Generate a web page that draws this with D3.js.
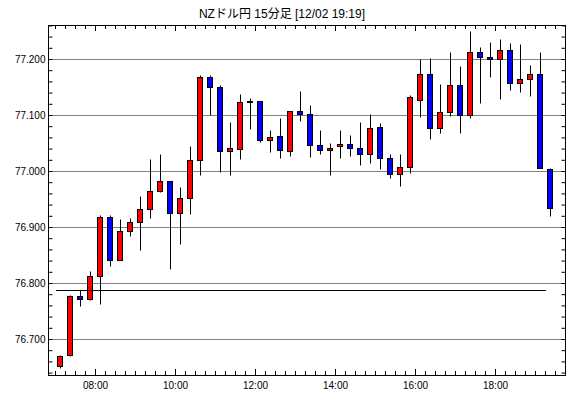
<!DOCTYPE html>
<html><head><meta charset="utf-8">
<script src="https://cdn.jsdelivr.net/npm/d3@7"></script>
<style>
html,body{margin:0;padding:0;background:#fff;}
svg{display:block;}
text{font-family:"Liberation Sans",Arial,"Noto Sans CJK JP",sans-serif;}
</style></head>
<body>
<script>
const title = "NZドル円 15分足 [12/02 19:19]";
const startTime = "07:00";      // first candle
const intervalMin = 15;
const openV  = [76.652,76.672,76.777,76.772,76.813,76.918,76.841,76.893,76.909,76.932,
                76.965,76.983,76.925,76.952,77.020,77.168,77.150,77.036,77.040,77.125,
                77.125,77.056,77.063,77.036,77.107,77.102,77.047,77.038,77.045,77.049,
                77.041,77.031,77.079,77.024,76.995,77.007,77.127,77.174,77.077,77.106,
                77.154,77.100,77.213,77.204,77.200,77.216,77.158,77.165,77.174,77.004];
const highV  = [76.672,76.779,76.787,76.822,76.922,76.922,76.915,76.916,76.956,77.022,
                77.031,76.983,76.972,77.045,77.172,77.172,77.154,77.087,77.137,77.131,
                77.125,77.074,77.094,77.107,77.142,77.117,77.074,77.050,77.074,77.065,
                77.087,77.101,77.085,77.031,77.031,77.135,77.200,77.202,77.156,77.212,
                77.188,77.250,77.222,77.231,77.236,77.229,77.226,77.190,77.213,77.006];
const lowV   = [76.649,76.670,76.759,76.770,76.762,76.830,76.841,76.884,76.859,76.916,
                76.963,76.825,76.869,76.923,76.992,77.100,76.998,76.992,77.021,77.075,
                77.051,77.034,77.023,77.026,77.090,77.025,77.030,76.993,77.023,77.026,
                77.010,77.015,77.003,76.987,76.973,76.996,77.096,77.057,77.067,77.098,
                77.067,77.094,77.122,77.168,77.128,77.144,77.141,77.134,77.006,76.919];
const closeV = [76.670,76.777,76.772,76.813,76.918,76.841,76.893,76.909,76.932,76.965,
                76.983,76.925,76.952,77.020,77.168,77.150,77.036,77.041,77.124,77.125,
                77.056,77.061,77.038,77.107,77.102,77.046,77.038,77.041,77.049,77.041,
                77.031,77.077,77.024,76.995,77.008,77.133,77.174,77.077,77.106,77.154,
                77.100,77.213,77.204,77.200,77.216,77.158,77.165,77.174,77.006,76.934];
const refLevel = 76.788;
const refStart = "07:00", refEnd = "19:15";
const yLabels = [76.7, 76.8, 76.9, 77.0, 77.1, 77.2];
const xLabels = ["08:00","10:00","12:00","14:00","16:00","18:00"];

const W = 570, H = 398;
const L = 48.5, R = 565.5, T = 25, B = 375;
const parse = d3.timeParse("%H:%M");
const t0 = parse(startTime);
const candles = openV.map((o,i)=>({t:new Date(t0.getTime()+i*intervalMin*60000),o,h:highV[i],l:lowV[i],c:closeV[i]}));

const svg = d3.select("body").append("svg").attr("width",W).attr("height",H);

const x = d3.scaleTime()
  .domain([new Date(parse("06:49").getTime()+30000), parse("19:45")])
  .range([L, R]);
const y = d3.scaleLinear().domain([76.63661, 77.26161]).range([B, T]);
const cx = d => Math.round(x(new Date(d.t.getTime()+intervalMin*30000))-0.5)+0.5;
const py = v => Math.round(y(v)-0.5)+0.5;

// title
svg.append("text").attr("x",282).attr("y",18).attr("text-anchor","middle")
  .attr("font-size",12).attr("fill","#000").text(title);

// gridlines
svg.append("g").selectAll("line").data(yLabels).join("line")
  .attr("x1",L).attr("x2",R).attr("y1",d=>py(d)).attr("y2",d=>py(d))
  .attr("stroke","#000").attr("stroke-width",1).attr("stroke-dasharray","1,1");

// y minor ticks
const yMinor = d3.range(76.64, 77.261, 0.02).map(v=>+v.toFixed(2));
const tickAxisStyle = g => { g.select(".domain").remove(); g.selectAll("line").attr("stroke","#000"); };
svg.append("g").attr("transform",`translate(${L},0)`)
  .call(d3.axisLeft(y).tickValues(yMinor).tickSize(-4).tickFormat("").offset(0))
  .call(tickAxisStyle);
svg.append("g").attr("transform",`translate(${R},0)`)
  .call(d3.axisRight(y).tickValues(yMinor).tickSize(-4).tickFormat("").offset(0))
  .call(tickAxisStyle);
// y labels
svg.append("g").attr("transform",`translate(${L},0)`)
  .call(d3.axisLeft(y).tickValues(yLabels).tickSize(0).tickPadding(3).tickFormat(d3.format(".3f")).offset(0))
  .call(g=>{g.select(".domain").remove(); g.selectAll("text").attr("font-size",10).attr("fill","#000")
     .attr("font-family","'Liberation Sans',Arial,sans-serif");});

// x ticks
const xMinor = d3.timeMinute.every(15).range(parse("06:50"), parse("19:45"));
const xMajor = xLabels.map(parse);
svg.append("g").attr("transform",`translate(0,${B})`)
  .call(d3.axisBottom(x).tickValues(xMinor).tickSize(-4).tickFormat("").offset(0)).call(tickAxisStyle);
svg.append("g").attr("transform",`translate(0,${B})`)
  .call(d3.axisBottom(x).tickValues(xMajor).tickSize(-6).tickFormat("").offset(0)).call(tickAxisStyle);
svg.append("g").attr("transform",`translate(0,${T})`)
  .call(d3.axisTop(x).tickValues(xMinor).tickSize(-4).tickFormat("").offset(0)).call(tickAxisStyle);
svg.append("g").attr("transform",`translate(0,${T})`)
  .call(d3.axisTop(x).tickValues(xMajor).tickSize(-6).tickFormat("").offset(0)).call(tickAxisStyle);
svg.append("g").attr("transform",`translate(0,${B})`)
  .call(d3.axisBottom(x).tickValues(xMajor).tickSize(0).tickPadding(7).tickFormat(d3.timeFormat("%H:%M")).offset(0))
  .call(g=>{g.select(".domain").remove(); g.selectAll("text").attr("font-size",10).attr("fill","#000")
     .attr("font-family","'Liberation Sans',Arial,sans-serif");});

// wicks
svg.append("g").selectAll("line").data(candles).join("line")
  .attr("x1",cx).attr("x2",cx).attr("y1",d=>py(d.h)).attr("y2",d=>py(d.l))
  .attr("stroke","#000").attr("stroke-width",1);
// bodies
svg.append("g").selectAll("rect").data(candles).join("rect")
  .attr("x",d=>cx(d)-3).attr("width",5)
  .attr("y",d=>py(Math.max(d.o,d.c)))
  .attr("height",d=>Math.max(1, py(Math.min(d.o,d.c))-py(Math.max(d.o,d.c))))
  .attr("fill",d=>d.c>=d.o?"#ff0000":"#0000ff")
  .attr("stroke","#000").attr("stroke-width",1);

// reference level line
svg.append("line")
  .attr("x1",Math.round(x(parse(refStart)))).attr("x2",Math.round(x(parse(refEnd))))
  .attr("y1",py(refLevel)).attr("y2",py(refLevel))
  .attr("stroke","#000").attr("stroke-width",1);

// frame
svg.append("rect").attr("x",L).attr("y",T+0.5).attr("width",R-L).attr("height",B-T)
  .attr("fill","none").attr("stroke","#000").attr("stroke-width",1);
</script>
</body></html>
